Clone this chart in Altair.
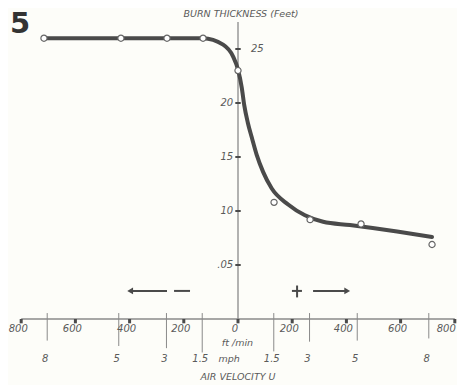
import altair as alt
import pandas as pd

# ---- data ----
pt_x = [-716, -432, -262, -129, 0, 133, 266, 454, 716]
pt_y = [26.0, 26.0, 26.0, 26.0, 23.0, 10.8, 9.2, 8.8, 6.9]

curve_x = [-716, -129, -55, -18, 0, 14, 23, 36, 51, 69, 93, 124, 185, 247, 314, 413, 587, 716]
curve_y = [26.0, 26.0, 25.4, 24.3, 23.1, 21.4, 19.8, 18.2, 16.8, 15.2, 13.6, 12.1, 10.6, 9.6, 9.0, 8.7, 8.1, 7.6]

ft_ticks = [-800, -600, -400, -200, 0, 200, 400, 600, 800]
ft_labels = ["800", "600", "400", "200", "0", "200", "400", "600", "800"]

mph_ticks = [-704, -440, -264, -132, 132, 264, 440, 704]
mph_labels = ["8", "5", "3", "1.5", "1.5", "3", "5", "8"]
mph_tick_bottom = [-2.0, -2.5, -2.7, -3.1, -3.0, -2.1, -2.0, -1.8]

y_ticks = [5, 10, 15, 20, 25]
y_labels = [".05", "10", "15", "20", "25"]

# ---- scales ----
XMIN, XMAX = -848.7, 808.1
YMIN, YMAX = -6.111, 28.796
W, H = 449, 377
INK = "#4a4a4a"
GREY = "#8a8a8a"
TXT = "#5a5a5a"
FONT = "DejaVu Sans"

xs = alt.Scale(domain=[XMIN, XMAX], nice=False, zero=False)
ys = alt.Scale(domain=[YMIN, YMAX], nice=False, zero=False)


def X(f="x"):
    return alt.X(f"{f}:Q", scale=xs, axis=None)


def Y(f="y"):
    return alt.Y(f"{f}:Q", scale=ys, axis=None)


# axis lines
axes_df = pd.DataFrame({
    "x": [-800, 0], "x2": [800, 0], "y": [0, 0], "y2": [0, 27.5]
})
axes = alt.Chart(axes_df).mark_rule(color=GREY, strokeWidth=1.3).encode(
    x=X(), x2="x2:Q", y=Y(), y2="y2:Q")

# y ticks
yt_df = pd.DataFrame({"y": y_ticks, "x": [-10] * 5, "x2": [10] * 5})
yticks = alt.Chart(yt_df).mark_rule(color=INK, strokeWidth=2).encode(
    x=X(), x2="x2:Q", y=Y())

# ft/min ticks
xt_df = pd.DataFrame({"x": ft_ticks, "y": [0] * 9, "y2": [-0.4] * 9})
xticks = alt.Chart(xt_df).mark_rule(color=INK, strokeWidth=3).encode(
    x=X(), y=Y(), y2="y2:Q")

# mph ticks
mt_df = pd.DataFrame({"x": mph_ticks, "y": [0.55] * 8, "y2": mph_tick_bottom})
mticks = alt.Chart(mt_df).mark_rule(color=GREY, strokeWidth=1).encode(
    x=X(), y=Y(), y2="y2:Q")

# labels
ftl_df = pd.DataFrame({"x": ft_ticks[:-1], "y": [-0.95] * 8, "t": ft_labels[:-1]})
ftl = alt.Chart(ftl_df).mark_text(font=FONT, fontStyle="italic", fontSize=10,
                                  color=TXT, dx=-3, baseline="middle").encode(
    x=X(), y=Y(), text="t:N")
ftl_last_df = pd.DataFrame({"x": ft_ticks[-1:], "y": [-0.95], "t": ft_labels[-1:]})
ftl_last = alt.Chart(ftl_last_df).mark_text(font=FONT, fontStyle="italic", fontSize=10,
                                            color=TXT, align="right", dx=1,
                                            baseline="middle").encode(
    x=X(), y=Y(), text="t:N")

mpl_df = pd.DataFrame({"x": mph_ticks, "y": [-3.7] * 8, "t": mph_labels})
mpl = alt.Chart(mpl_df).mark_text(font=FONT, fontStyle="italic", fontSize=10,
                                  color=TXT, dx=-2, baseline="middle").encode(
    x=X(), y=Y(), text="t:N")

yl_df = pd.DataFrame({"x": [-18] * 4, "y": y_ticks[:4], "t": y_labels[:4]})
yl = alt.Chart(yl_df).mark_text(font=FONT, fontStyle="italic", fontSize=10,
                                color=TXT, align="right", baseline="middle").encode(
    x=X(), y=Y(), text="t:N")
yl25_df = pd.DataFrame({"x": [48], "y": [25], "t": [y_labels[4]]})
yl25 = alt.Chart(yl25_df).mark_text(font=FONT, fontStyle="italic", fontSize=10,
                                    color=TXT, align="left", baseline="middle").encode(
    x=X(), y=Y(), text="t:N")

misc_df = pd.DataFrame({
    "x": [11, -2, -33, 0],
    "y": [28.24, -2.2, -3.7, -5.4],
    "t": ["BURN THICKNESS (Feet)", "ft /min", "mph", "AIR VELOCITY U"],
})
misc = alt.Chart(misc_df).mark_text(font=FONT, fontStyle="italic", fontSize=9.5,
                                    color=TXT, baseline="middle").encode(
    x=X(), y=Y(), text="t:N")

big_df = pd.DataFrame({"x": [XMIN], "y": [YMAX], "t": ["5"]})
big = alt.Chart(big_df).mark_text(font=FONT, fontWeight="bold", fontSize=29,
                                  color="#333333", align="left", baseline="top",
                                  dx=2, dy=2).encode(
    x=X(), y=Y(), text="t:N")

# direction arrows and signs
arr_df = pd.DataFrame({
    "x": [-391, -236, 199, 218, 277],
    "x2": [-262, -177, 236, 218, 395],
    "y": [2.6, 2.6, 2.6, 3.1, 2.6],
    "y2": [2.6, 2.6, 2.6, 2.0, 2.6],
})
arrows = alt.Chart(arr_df).mark_rule(color=INK, strokeWidth=2).encode(
    x=X(), x2="x2:Q", y=Y(), y2="y2:Q")
headl = alt.Chart(pd.DataFrame({"x": [-398], "y": [2.6]})).mark_point(
    shape="triangle-left", filled=True, color=INK, size=45, opacity=1).encode(x=X(), y=Y())
headr = alt.Chart(pd.DataFrame({"x": [403], "y": [2.6]})).mark_point(
    shape="triangle-right", filled=True, color=INK, size=45, opacity=1).encode(x=X(), y=Y())

# curve and observations
curve_df = pd.DataFrame({"x": curve_x, "y": curve_y})
curve = alt.Chart(curve_df).mark_line(color=INK, strokeWidth=4, interpolate="monotone",
                                      strokeCap="round").encode(x=X(), y=Y())

pts_df = pd.DataFrame({"x": pt_x, "y": pt_y})
pts = alt.Chart(pts_df).mark_point(shape="circle", filled=True, fill="white",
                                   stroke="#666666", strokeWidth=1.2, size=38,
                                   opacity=1).encode(x=X(), y=Y())

chart = alt.layer(
    axes, mticks, xticks, yticks, arrows, headl, headr,
    curve, pts, ftl, ftl_last, mpl, yl, yl25, misc, big
).properties(
    width=W, height=H, padding=0, autosize=alt.AutoSizeParams(type="none"),
    background="#fdfdf9"
).configure_view(stroke=None)

chart.save("out.html", embed_options={"renderer": "svg", "actions": False})
